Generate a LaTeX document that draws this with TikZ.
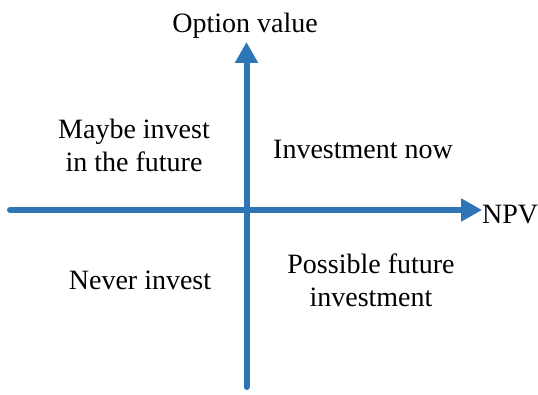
\documentclass[tikz,border=0pt]{standalone}
\usepackage{fontspec}
\setmainfont{Liberation Serif}
\usetikzlibrary{arrows.meta}
\definecolor{axisblue}{RGB}{46,117,182}
\begin{document}
\begin{tikzpicture}[x=1pt,y=1pt,
  axis/.style={draw=axisblue,line width=6pt,line cap=round,-{Triangle[length=21pt,width=22pt]}},
  lbl/.style={anchor=base,inner sep=0pt,font=\fontsize{28}{33}\selectfont}]
\useasboundingbox (0,0) rectangle (538,394);
\coordinate (hl) at (10,184);
\coordinate (hr) at (482,184);
\coordinate (vb) at (246.5,7);
\coordinate (vt) at (246.5,352);
\draw[axis] (hl) -- (hr);
\draw[axis] (vb) -- (vt);
\node[lbl] (opt) at (245,361) {Option value};
\node[lbl] (maybe1) at (134,255) {Maybe invest};
\node[lbl] (maybe2) at (134,222.5) {in the future};
\node[lbl] (invnow) at (363,235) {Investment now};
\node[lbl,anchor=base west] (npv) at (482,171) {NPV};
\node[lbl] (never) at (140,105) {Never invest};
\node[lbl] (poss1) at (371,121) {Possible future};
\node[lbl] (poss2) at (371,88) {investment};
\end{tikzpicture}
\end{document}
